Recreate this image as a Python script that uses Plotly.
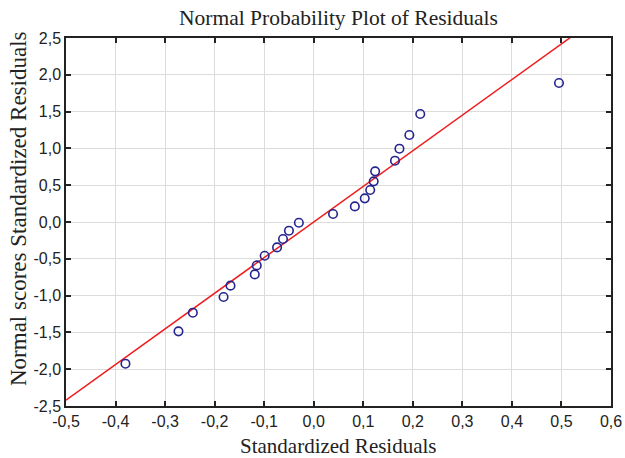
import plotly.graph_objects as go

resid = [-0.380, -0.273, -0.244, -0.182, -0.168, -0.119, -0.115, -0.099, -0.074, -0.062,
         -0.050, -0.030, 0.039, 0.083, 0.103, 0.114, 0.121, 0.124, 0.164, 0.173,
         0.193, 0.215, 0.495]
nscore = [-1.925, -1.486, -1.232, -1.019, -0.865, -0.712, -0.590, -0.458, -0.345, -0.231,
          -0.118, -0.010, 0.109, 0.212, 0.321, 0.435, 0.552, 0.688, 0.833, 0.996,
          1.182, 1.467, 1.889]
line_x = [-0.5, 0.6]
line_slope = 4.84
line_intercept = 0.0
line_y = [line_intercept + line_slope * v for v in line_x]

x_ticks = [-0.5, -0.4, -0.3, -0.2, -0.1, 0.0, 0.1, 0.2, 0.3, 0.4, 0.5, 0.6]
x_labels = ["-0,5", "-0,4", "-0,3", "-0,2", "-0,1", "0,0", "0,1", "0,2", "0,3", "0,4", "0,5", "0,6"]
y_ticks = [-2.5, -2.0, -1.5, -1.0, -0.5, 0.0, 0.5, 1.0, 1.5, 2.0, 2.5]
y_labels = ["-2,5", "-2,0", "-1,5", "-1,0", "-0,5", "0,0", "0,5", "1,0", "1,5", "2,0", "2,5"]

title_text = "Normal Probability Plot of Residuals"
x_title = "Standardized Residuals"
y_title = "Normal scores Standardized Residuals"

serif = "Liberation Serif, Times New Roman, serif"
sans = "Liberation Sans, Arial, sans-serif"
ink = "#222222"

fig = go.Figure()
fig.add_trace(go.Scatter(x=line_x, y=line_y, mode="lines",
                         line=dict(color="#ee1c1c", width=1.5), hoverinfo="skip"))
fig.add_trace(go.Scatter(x=resid, y=nscore, mode="markers",
                         marker=dict(symbol="circle-open", size=8.5, color="#24248f",
                                     line=dict(width=1.6, color="#24248f"))))

axis_common = dict(showgrid=True, gridcolor="#dcdcdc", gridwidth=1,
                   showline=True, linecolor=ink, linewidth=1.5, mirror="ticks",
                   ticks="inside", ticklen=5, tickcolor=ink, tickwidth=1.5,
                   zeroline=False, automargin=False,
                   tickfont=dict(family=sans, size=16, color=ink))

W, H = 625, 458
ML, MR, MT, MB = 66, 14, 38, 52
pw, ph = W - ML - MR, H - MT - MB

def px(xp):
    return (xp - ML) / pw

def py(yp):
    return (H - MB - yp) / ph

fig.update_layout(
    width=W, height=H,
    margin=dict(l=ML, r=MR, t=MT, b=MB),
    paper_bgcolor="white", plot_bgcolor="white",
    showlegend=False,
    xaxis=dict(range=[-0.5, 0.6], tickvals=x_ticks, ticktext=x_labels, **axis_common),
    yaxis=dict(range=[-2.5, 2.5], tickvals=y_ticks, ticktext=y_labels, **axis_common),
    annotations=[
        dict(text=title_text, xref="paper", yref="paper", x=px(338), y=py(18),
             xanchor="center", yanchor="middle", showarrow=False,
             font=dict(family=serif, size=21.5, color=ink)),
        dict(text=x_title, xref="paper", yref="paper", x=px(338), y=py(446),
             xanchor="center", yanchor="middle", showarrow=False,
             font=dict(family=serif, size=21, color=ink)),
        dict(text=y_title, xref="paper", yref="paper", x=px(18), y=py(209),
             xanchor="center", yanchor="middle", showarrow=False, textangle=-90,
             font=dict(family=serif, size=23, color=ink)),
    ],
)

fig.write_html("out.html",
               config={"displayModeBar": False},
               post_script="document.body.style.margin='0';document.body.style.overflow='hidden';")
